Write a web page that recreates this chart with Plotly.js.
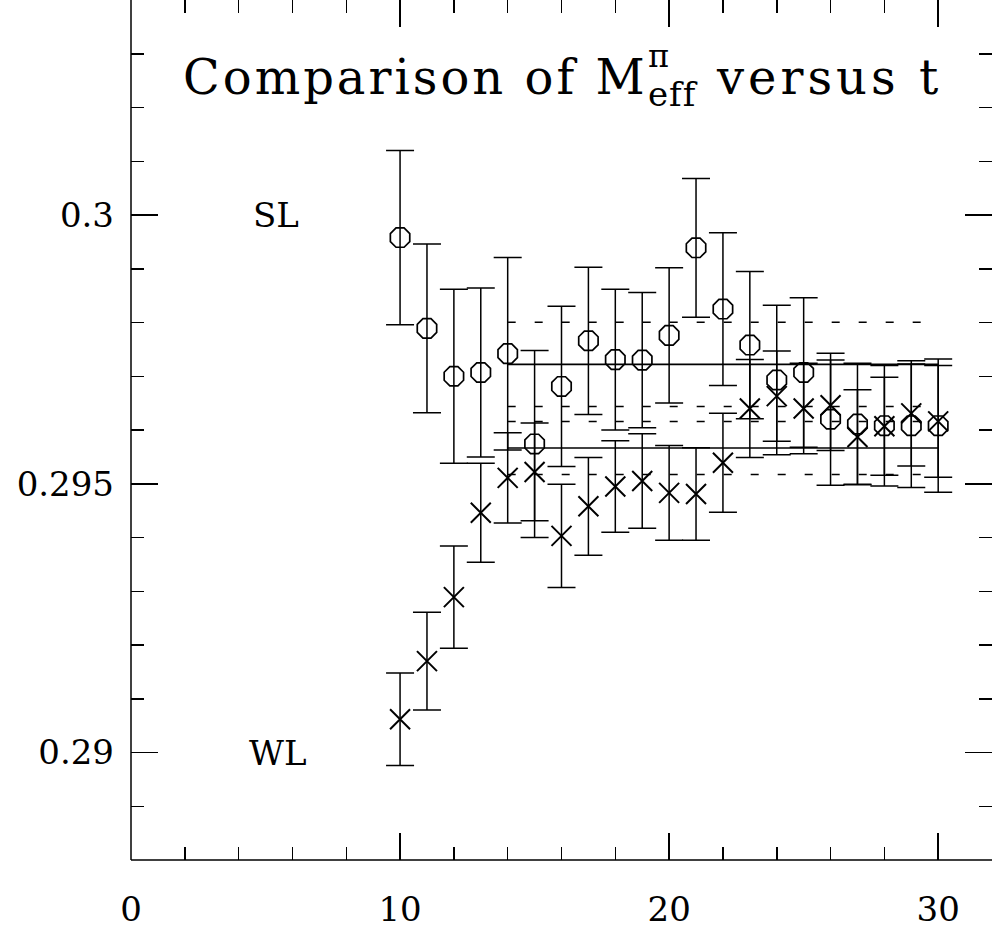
<!DOCTYPE html>
<html>
<head>
<meta charset="utf-8">
<script src="https://cdn.plot.ly/plotly-3.0.1.min.js"></script>
<style>
html, body { margin: 0; padding: 0; overflow: hidden; background: #fff; }
#chart { width: 992px; height: 930px; }
</style>
</head>
<body>
<div id="chart"></div>
<script>
// ---- data ----
const tValues = [10, 11, 12, 13, 14, 15, 16, 17, 18, 19, 20, 21, 22, 23, 24, 25, 26, 27, 28, 29, 30];
const slMass = [0.29958, 0.29789, 0.29700, 0.29707, 0.29742, 0.29574, 0.29681, 0.29766, 0.29731, 0.29730, 0.29776,
                0.29939, 0.29825, 0.29758, 0.29693, 0.29707, 0.29620, 0.29611, 0.29608, 0.29608, 0.29608];
const slErr = [0.00162, 0.00157, 0.00162, 0.00157, 0.00179, 0.00174, 0.00149, 0.00137, 0.00131, 0.00126, 0.00126,
               0.00129, 0.00142, 0.00137, 0.00139, 0.00139, 0.00123, 0.00113, 0.00112, 0.00115, 0.00124];
const wlMass = [0.29062, 0.29170, 0.29289, 0.29446, 0.29511, 0.29522, 0.29403, 0.29458, 0.29495, 0.29505, 0.29483,
                0.29481, 0.29539, 0.29640, 0.29663, 0.29640, 0.29646, 0.29587, 0.29607, 0.29631, 0.29616];
const wlErr = [0.00086, 0.00091, 0.00095, 0.00092, 0.00084, 0.00091, 0.00096, 0.00091, 0.00085, 0.00088, 0.00088,
               0.00086, 0.00092, 0.00091, 0.00084, 0.00084, 0.00084, 0.00088, 0.00091, 0.00098, 0.00104];
const fitRange = [14, 30];
const slFit = 0.297221, slFitErr = 0.000784;
const wlFit = 0.295665, wlFitErr = 0.000493;
const xTickVals = [0, 10, 20, 30];
const yTickVals = [0.29, 0.295, 0.3];
const labels = ["SL", "WL"];
const titleParts = ["Comparison of M", "eff", "π", "versus t"];

// ---- styling ----
const FONT = "DejaVu Serif";
const ink = "#000";

function flat(v) { return fitRange.map(() => v); }
function lineTrace(v, dash, w) {
  return { x: fitRange, y: flat(v), mode: "lines", hoverinfo: "skip",
           line: { color: ink, width: w, dash: dash }, showlegend: false };
}

const traces = [
  lineTrace(slFit, "solid", 1.7),
  lineTrace(slFit + slFitErr, "8px,19px", 1.4),
  lineTrace(slFit - slFitErr, "8px,19px", 1.4),
  lineTrace(wlFit, "solid", 1.7),
  lineTrace(wlFit + wlFitErr, "8px,19px", 1.4),
  lineTrace(wlFit - wlFitErr, "8px,19px", 1.4),
  {
    x: tValues, y: slMass, mode: "markers", name: labels[0], showlegend: false,
    marker: { symbol: "octagon-open", size: 21, color: ink, line: { width: 1.7, color: ink } },
    error_y: { type: "data", array: slErr, visible: true, color: ink, thickness: 1.5, width: 14 }
  },
  {
    x: tValues, y: wlMass, mode: "markers", name: labels[1], showlegend: false,
    marker: { symbol: "x-thin-open", size: 20, color: ink, line: { width: 2, color: ink } },
    error_y: { type: "data", array: wlErr, visible: true, color: ink, thickness: 1.5, width: 14 }
  }
];

const W = 992, H = 930, ML = 131, MB = 70;
const PW = W - ML, PH = H - MB;
function px(xp) { return (xp - ML) / PW; }
function py(yp) { return (PH - yp) / PH; }
function spaced(s, sp) { return '<span style="letter-spacing:' + sp + 'px">' + s + '</span>'; }

const layout = {
  width: W, height: H,
  margin: { l: ML, r: 0, t: 0, b: MB, pad: 0 },
  paper_bgcolor: "#fff", plot_bgcolor: "#fff",
  font: { family: FONT, color: ink, size: 34 },
  showlegend: false,
  xaxis: {
    range: [0, 32], tickvals: xTickVals, ticktext: xTickVals.map(String),
    ticks: "inside", ticklen: 27, tickwidth: 1.5, tickcolor: ink,
    minor: { dtick: 2, tick0: 0, ticks: "inside", ticklen: 13, tickwidth: 1.5, tickcolor: ink },
    showline: false, mirror: "allticks", showgrid: false, zeroline: false,
    ticklabelstandoff: 26, tickfont: { family: FONT, size: 34, color: ink }
  },
  yaxis: {
    range: [0.288, 0.304], tickvals: yTickVals, ticktext: yTickVals.map(String),
    ticks: "inside", ticklen: 27, tickwidth: 1.5, tickcolor: ink,
    minor: { dtick: 0.001, tick0: 0.288, ticks: "inside", ticklen: 13, tickwidth: 1.5, tickcolor: ink },
    showline: false, mirror: "allticks", showgrid: false, zeroline: false,
    ticklabelstandoff: 16, tickfont: { family: FONT, size: 34, color: ink }
  },
  shapes: [
    { type: "line", xref: "paper", yref: "paper", x0: 0, x1: 0, y0: 0, y1: 1, line: { color: ink, width: 1.5 } },
    { type: "line", xref: "paper", yref: "paper", x0: 0, x1: 1, y0: 0, y1: 0, line: { color: ink, width: 1.5 } }
  ],
  annotations: [
    { text: labels[0], x: 5.4, y: 0.3, xref: "x", yref: "y", showarrow: false,
      font: { family: FONT, size: 34, color: ink } },
    { text: labels[1], x: 5.45, y: 0.29, xref: "x", yref: "y", showarrow: false,
      font: { family: FONT, size: 34, color: ink } },
    { text: spaced(titleParts[0], 3), x: px(181), y: py(77), xref: "paper", yref: "paper", xanchor: "left", yanchor: "middle",
      showarrow: false, font: { family: FONT, size: 48, color: ink } },
    { text: spaced(titleParts[1], 1), x: px(646), y: py(94), xref: "paper", yref: "paper", xanchor: "left", yanchor: "middle",
      showarrow: false, font: { family: FONT, size: 34, color: ink } },
    { text: titleParts[2], x: px(658), y: py(56), xref: "paper", yref: "paper", xanchor: "center", yanchor: "middle",
      showarrow: false, font: { family: FONT, size: 32, color: ink } },
    { text: spaced(titleParts[3], 4), x: px(714), y: py(77), xref: "paper", yref: "paper", xanchor: "left", yanchor: "middle",
      showarrow: false, font: { family: FONT, size: 48, color: ink } }
  ]
};

Plotly.newPlot("chart", traces, layout, { staticPlot: true, displayModeBar: false });
</script>
</body>
</html>
